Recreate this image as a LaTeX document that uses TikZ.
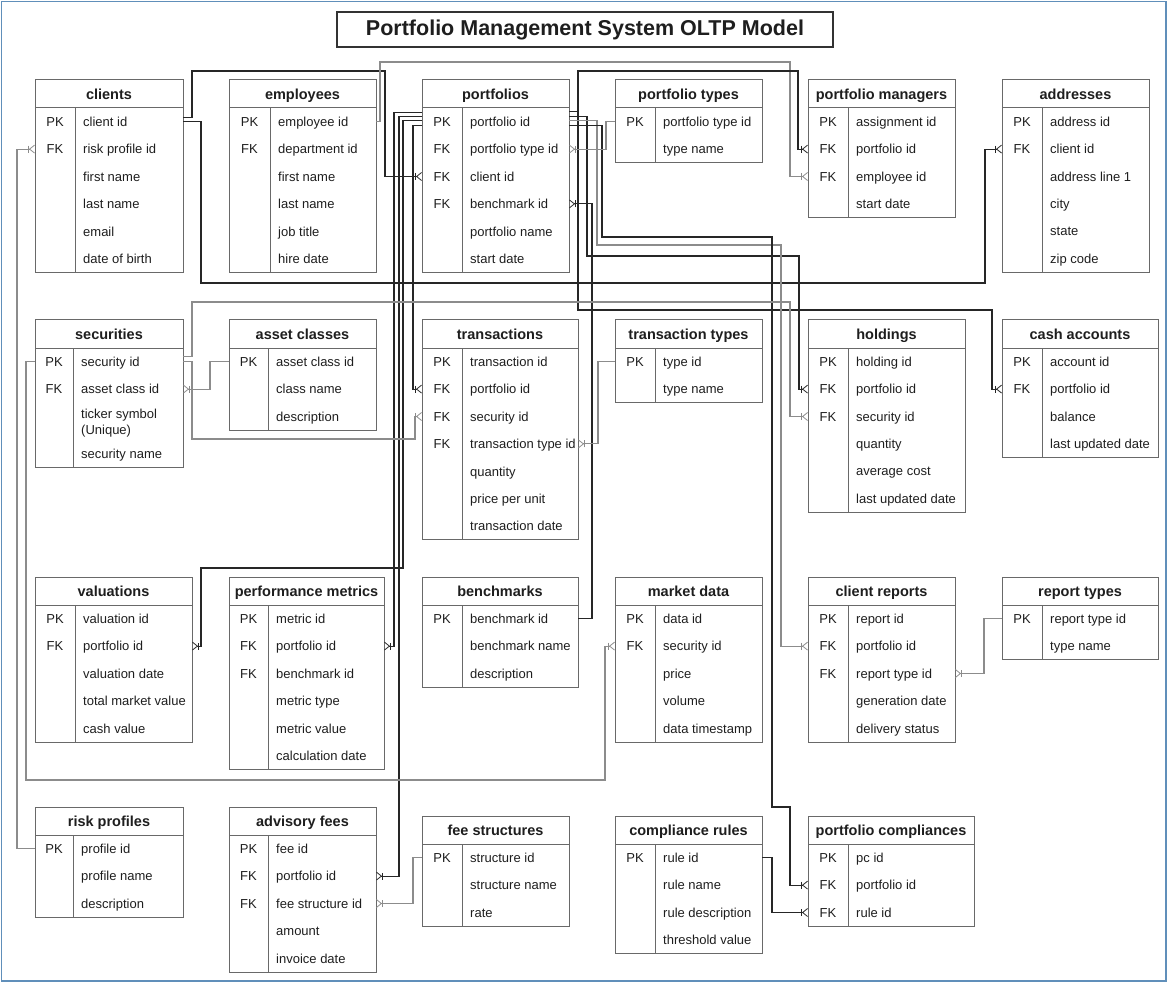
\documentclass[tikz,border=0pt]{standalone}
\usepackage{fontspec}
\setmainfont{Liberation Sans}
\usepackage{xcolor}
\definecolor{frameblue}{RGB}{96,143,186}
\definecolor{tableline}{RGB}{105,105,105}
\definecolor{ink}{RGB}{30,30,30}
\usetikzlibrary{arrows.meta,calc}

\tikzset{
  erhead/.style={inner sep=0pt, outer sep=0pt, minimum height=28pt, yshift=-2pt, text=ink, font=\fontsize{14.5}{17}\selectfont\bfseries},
  errow/.style={inner sep=0pt, outer sep=0pt, anchor=west},
  erkey/.style={inner sep=0pt, yshift=-1.5pt, text=ink, font=\fontsize{13}{15}\selectfont},
  erfield/.style={inner sep=0pt, yshift=-1.5pt, anchor=west, align=left, text=ink, font=\fontsize{13}{15.5}\selectfont},
  erline/.style={draw=tableline, line width=1pt},
  rel/.style={draw=black!85, line width=1.1pt, -{Bar[width=7pt,line width=0.8pt] Straight Barb[reversed,length=5pt,width=8pt,line width=0.8pt]}},
  relg/.style={rel, draw=black!45}
}
\newcommand{\ERSTRUT}{\vphantom{Apgy}}

% #1 tall row, #2 name, #3 left, #4 top, #5 width, #6 key column, #7 title, #8 rows
\newcommand{\ertable}[8][0]{%
  \node[erhead, minimum width=#5, anchor=north west] (#2) at (#3,#4) {\ERSTRUT#7};
  \foreach \ky/\fld [count=\idx] in {#8}{
    \pgfmathsetmacro\rowy{#4+41.7+(\idx-1)*27.4+(\idx>#1)*(#1>0)*10+(\idx==#1)*5}
    \pgfmathsetmacro\rowh{27.4+(\idx==#1)*10}
    \node[errow, minimum width=#5, minimum height=\rowh] (#2-\idx) at (#3,\rowy) {};
    \node[erkey] at ({#3+#6/2},\rowy) {\ERSTRUT\ky};
    \node[erfield] at ({#3+#6+8},\rowy) {\ERSTRUT\fld};
    \xdef\errows{\idx}
  }
  \pgfmathsetmacro\rowb{#4+28+\errows*27.4+(#1>0)*10}
  \draw[erline] (#3,#4) rectangle ({#3+#5},\rowb);
  \draw[erline] (#3,{#4+28}) -- ({#3+#5},{#4+28});
  \draw[erline] ({#3+#6},{#4+28}) -- ({#3+#6},\rowb);
}

\begin{document}
\begin{tikzpicture}[x=1pt, y=-1pt]
\useasboundingbox (0,0) rectangle (1170,984);
\draw[frameblue, line width=1.2pt] (1.5,1.5) rectangle (1166,981);

\node[draw=black!80, line width=1.2pt, minimum width=496pt, minimum height=35pt, inner sep=0pt,
  font=\fontsize{21.5}{25}\selectfont\bfseries, text=ink] (title) at (585,29.5) {Portfolio Management System OLTP Model};

% first row of tables
\ertable{clients}{35}{80}{148}{40}{clients}{PK/client id, FK/risk profile id, /first name, /last name, /email, /date of birth}
\ertable{emp}{229}{80}{147}{41}{employees}{PK/employee id, FK/department id, /first name, /last name, /job title, /hire date}
\ertable{port}{422}{80}{147}{40}{portfolios}{PK/portfolio id, FK/portfolio type id, FK/client id, FK/benchmark id, /portfolio name, /start date}
\ertable{ptype}{615}{80}{147}{40}{portfolio types}{PK/portfolio type id, /type name}
\ertable{pman}{808}{80}{147}{40}{portfolio managers}{PK/assignment id, FK/portfolio id, FK/employee id, /start date}
\ertable{addr}{1002}{80}{147}{40}{addresses}{PK/address id, FK/client id, /address line 1, /city, /state, /zip code}

% second row
\ertable[3]{sec}{35}{320}{148}{38}{securities}{PK/security id, FK/asset class id, /{ticker symbol\\(Unique)}, /security name}
\ertable{acls}{229}{320}{147}{39}{asset classes}{PK/asset class id, /class name, /description}
\ertable{trans}{422}{320}{156}{40}{transactions}{PK/transaction id, FK/portfolio id, FK/security id, FK/transaction type id, /quantity, /price per unit, /transaction date}
\ertable{ttype}{615}{320}{147}{40}{transaction types}{PK/type id, /type name}
\ertable{hold}{808}{320}{157}{40}{holdings}{PK/holding id, FK/portfolio id, FK/security id, /quantity, /average cost, /last updated date}
\ertable{cash}{1002}{320}{156}{40}{cash accounts}{PK/account id, FK/portfolio id, /balance, /last updated date}

% third row
\ertable{val}{35}{577}{157}{40}{valuations}{PK/valuation id, FK/portfolio id, /valuation date, /total market value, /cash value}
\ertable{perf}{229}{577}{155}{39}{performance metrics}{PK/metric id, FK/portfolio id, FK/benchmark id, /metric type, /metric value, /calculation date}
\ertable{bench}{422}{577}{156}{40}{benchmarks}{PK/benchmark id, /benchmark name, /description}
\ertable{mkt}{615}{577}{147}{40}{market data}{PK/data id, FK/security id, /price, /volume, /data timestamp}
\ertable{crep}{808}{577}{147}{40}{client reports}{PK/report id, FK/portfolio id, FK/report type id, /generation date, /delivery status}
\ertable{rtype}{1002}{577}{156}{40}{report types}{PK/report type id, /type name}

% fourth row
\ertable{risk}{35}{807}{148}{38}{risk profiles}{PK/profile id, /profile name, /description}
\ertable{fee}{229}{807}{147}{39}{advisory fees}{PK/fee id, FK/portfolio id, FK/fee structure id, /amount, /invoice date}
\ertable{fstr}{422}{816}{147}{40}{fee structures}{PK/structure id, /structure name, /rate}
\ertable{crule}{615}{816}{147}{40}{compliance rules}{PK/rule id, /rule name, /rule description, /threshold value}
\ertable{pcomp}{808}{816}{166}{40}{portfolio compliances}{PK/pc id, FK/portfolio id, FK/rule id}

% relationships
\draw[rel] ([yshift=4pt]clients-1.east) -| (192,71) -- (385,71) |- (port-3.west);
\draw[rel] (clients-1.east) -| (201,283) -- (985,283) |- (addr-2.west);
\draw[relg] (emp-1.east) -| (380,62) -- (790,62) |- (pman-3.west);
\draw[rel] ([yshift=10pt]port-1.east) -| (578,71) -- (798,71) |- (pman-2.west);
\draw[rel] ([yshift=10pt]port-1.east) -| (578,310) -- (992,310) |- (cash-2.west);
\draw[rel] ([yshift=5pt]port-1.east) -| (587,256) -- (799,256) |- (hold-2.west);
\draw[relg] ([yshift=1pt]port-1.east) -| (597,245) -- (781,245) |- (crep-2.west);
\draw[rel] ([yshift=-4pt]port-1.east) -| (602,237) -- (772,237) -- (772,807) -- (790,807) |- (pcomp-2.west);
\draw[relg] (ptype-1.west) -- ++(-9,0) |- (port-2.east);
\draw[rel] (bench-1.east) -- ++(14,0) |- (port-4.east);
\draw[rel] ([yshift=-4pt]port-1.west) -- ++(-9,0) |- (trans-2.west);
\draw[rel] ([yshift=1pt]port-1.west) -| (403,568) -- (201,568) |- (val-2.east);
\draw[rel] ([yshift=5pt]port-1.west) -- ++(-23,0) |- (fee-2.east);
\draw[rel] ([yshift=9pt]port-1.west) -- ++(-28,0) |- (perf-2.east);
\draw[relg] (sec-1.east) -| (192,439) -- (415,439) |- (trans-3.west);
\draw[relg] ([yshift=5pt]sec-1.east) -| (192,302) -- (790,302) |- (hold-3.west);
\draw[relg] (sec-1.west) -| (26,780) -- (605,780) |- (mkt-2.west);
\draw[relg] (acls-1.west) -- ++(-19,0) |- (sec-2.east);
\draw[relg] (ttype-1.west) -- ++(-17,0) |- (trans-4.east);
\draw[relg] (risk-1.west) -- ++(-18,0) |- (clients-2.west);
\draw[relg] (fstr-1.west) -- ++(-9,0) |- (fee-3.east);
\draw[relg] (rtype-1.west) -- ++(-18,0) |- (crep-3.east);
\draw[rel] (crule-1.east) -- ++(10,0) |- (pcomp-3.west);
\end{tikzpicture}
\end{document}
